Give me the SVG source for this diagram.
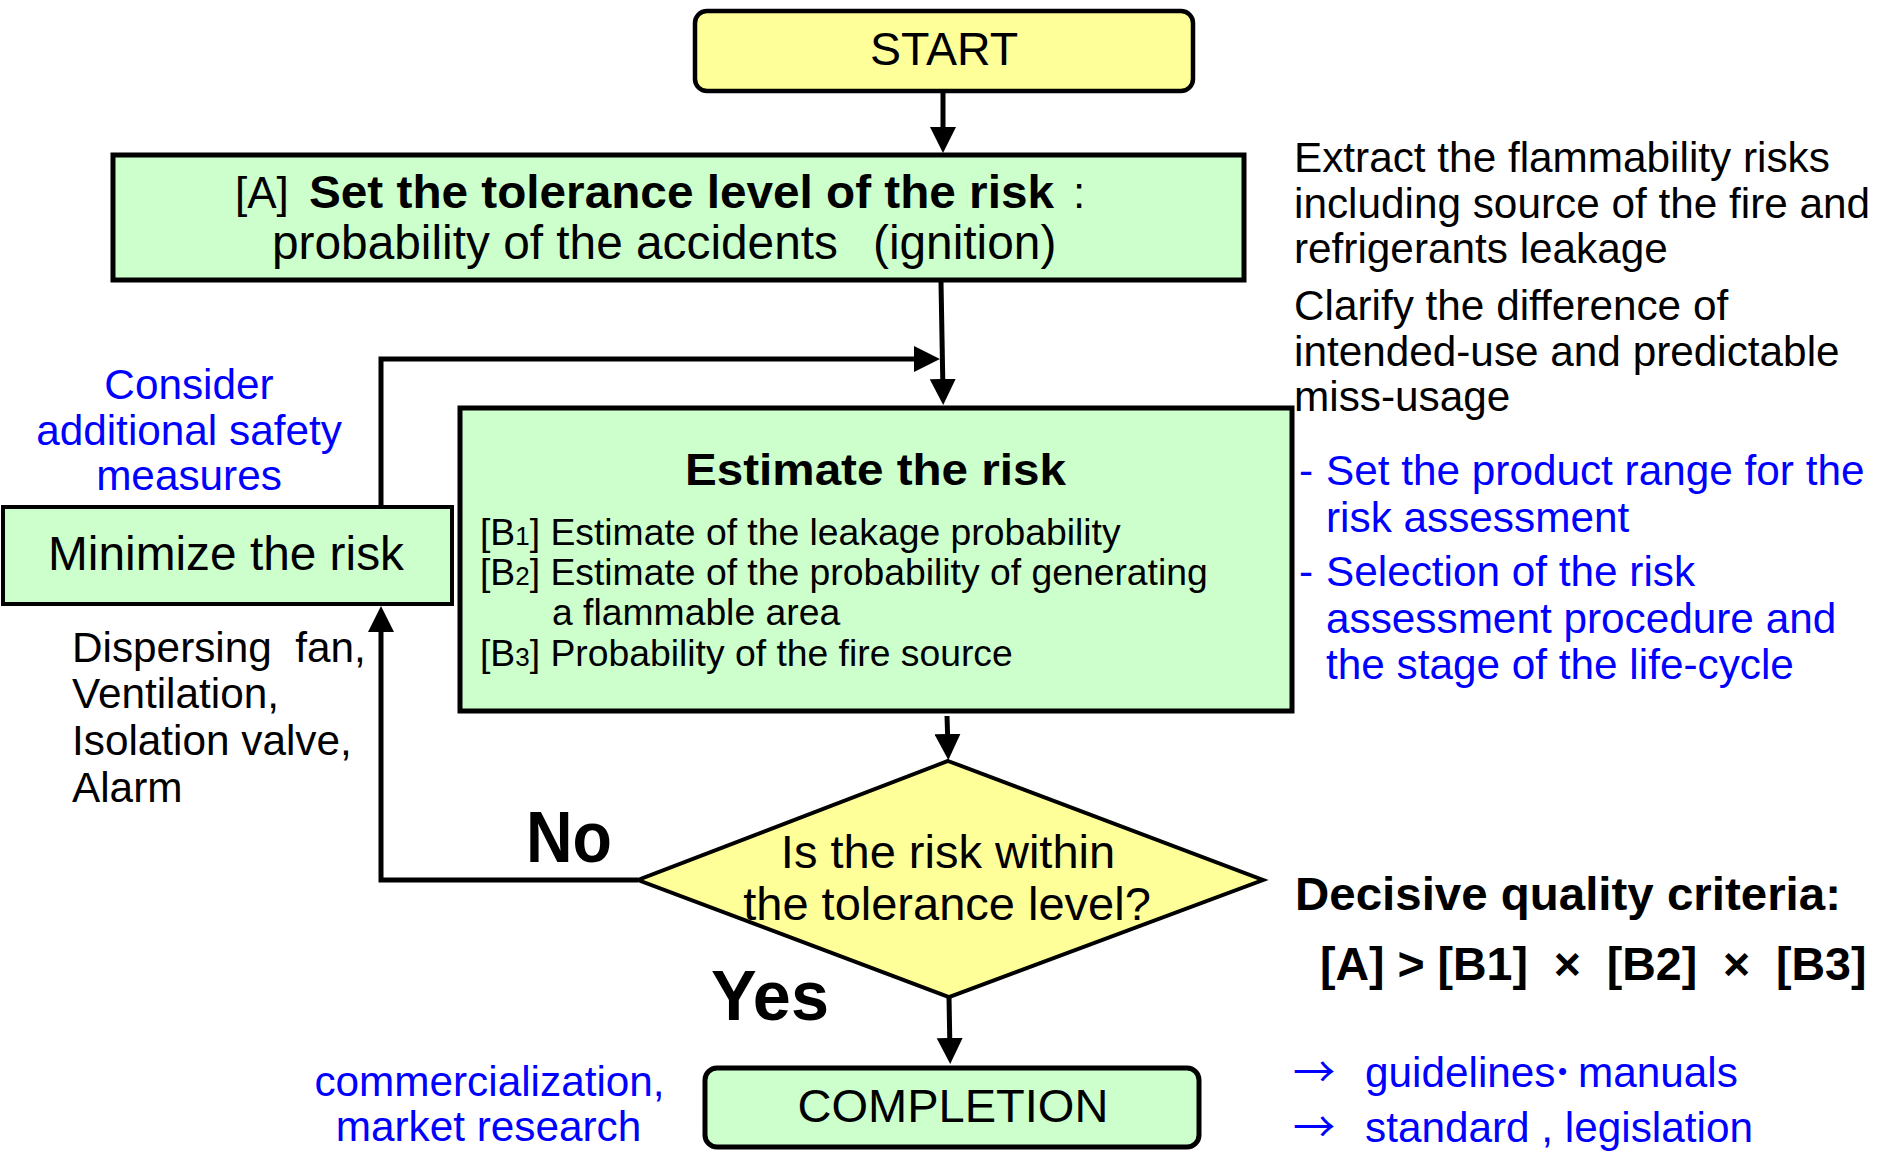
<svg xmlns="http://www.w3.org/2000/svg" width="1883" height="1152" viewBox="0 0 1883 1152">
  <style>
    text { font-family: "Liberation Sans", Arial, "Noto Sans CJK JP", sans-serif; fill: #000; }
    .yel { fill: #FFFF99; stroke: #000; }
    .grn { fill: #CCFFCC; stroke: #000; }
    .conn { fill: none; stroke: #000; stroke-width: 5; stroke-linejoin: miter; }
    .blue { fill: #0000FF; }
    .b { font-weight: bold; }
    .note { font-size: 42.3px; }
    .mid { text-anchor: middle; }
    .arr { font-family: "Noto Sans CJK JP", "DejaVu Sans", sans-serif; }
  </style>
  <defs>
    <marker id="arrow" viewBox="0 0 10 10" markerUnits="userSpaceOnUse" markerWidth="26" markerHeight="26" refX="5.4" refY="5" orient="auto">
      <path d="M0,0 L10,5 L0,10 z" fill="#000"/>
    </marker>
  </defs>

  <rect width="1883" height="1152" fill="#fff"/>

  <!-- connectors -->
  <g id="connectors">
    <path class="conn" d="M943,91 L943,141" marker-end="url(#arrow)"/>
    <path class="conn" d="M941,282 L943,393" marker-end="url(#arrow)"/>
    <path class="conn" d="M381,507 L381,359 L928,359" marker-end="url(#arrow)"/>
    <path class="conn" d="M947,716 L948,748" marker-end="url(#arrow)"/>
    <path class="conn" d="M949,997 L950,1052" marker-end="url(#arrow)"/>
    <path class="conn" d="M638,880 L381,880 L381,618" marker-end="url(#arrow)"/>
  </g>

  <!-- start -->
  <g id="start">
    <rect class="yel" x="695" y="11" width="498" height="80" rx="12" stroke-width="4.5"/>
    <text class="mid" x="944" y="65" font-size="46.5">START</text>
  </g>

  <!-- [A] tolerance level -->
  <g id="tolerance">
    <rect class="grn" x="113" y="155" width="1131" height="125" stroke-width="5"/>
    <text y="208" font-size="44"><tspan x="235">[A]</tspan><tspan x="309" class="b" font-size="46" textLength="745" lengthAdjust="spacingAndGlyphs">Set the tolerance level of the risk</tspan><tspan x="1073">:</tspan></text>
    <text y="259" font-size="47.8"><tspan x="272">probability of the accidents</tspan><tspan x="873">(ignition)</tspan></text>
  </g>

  <!-- estimate -->
  <g id="estimate">
    <rect class="grn" x="460" y="408" width="832" height="303" stroke-width="5"/>
    <text class="b mid" x="875.5" y="485" font-size="45" textLength="381" lengthAdjust="spacingAndGlyphs">Estimate the risk</text>
    <text x="480" y="545" font-size="37.3">[B<tspan font-size="26">1</tspan>] Estimate of the leakage probability</text>
    <text x="480" y="585" font-size="37.3">[B<tspan font-size="26">2</tspan>] Estimate of the probability of generating</text>
    <text x="552" y="625" font-size="37.3">a flammable area</text>
    <text x="480" y="666" font-size="37.3">[B<tspan font-size="26">3</tspan>] Probability of the fire source</text>
  </g>

  <!-- minimize -->
  <g id="minimize">
    <rect class="grn" x="3" y="507" width="449" height="97" stroke-width="4"/>
    <text class="mid" x="226" y="570" font-size="47.8">Minimize the risk</text>
  </g>

  <!-- decision -->
  <g id="decision">
    <polygon class="yel" points="948,761 1263,880 949,997 638,880" stroke-width="4"/>
    <text class="mid" x="948" y="868" font-size="47">Is the risk within</text>
    <text class="mid" x="947" y="920" font-size="47">the tolerance level?</text>
  </g>

  <!-- completion -->
  <g id="completion">
    <rect class="grn" x="705" y="1068" width="494" height="79" rx="12" stroke-width="5"/>
    <text class="mid" x="953" y="1122" font-size="47">COMPLETION</text>
  </g>

  <!-- branch labels -->
  <g id="labels">
    <text class="b" x="526" y="862" font-size="72" textLength="86" lengthAdjust="spacingAndGlyphs">No</text>
    <text class="b" x="711" y="1020" font-size="70" textLength="118" lengthAdjust="spacingAndGlyphs">Yes</text>
  </g>

  <!-- side notes -->
  <g id="notes-left">
    <text class="note blue mid" x="189" y="399">Consider</text>
    <text class="note blue mid" x="189" y="445">additional safety</text>
    <text class="note blue mid" x="189" y="490">measures</text>
    <text class="note" x="72" y="662" xml:space="preserve">Dispersing  fan,</text>
    <text class="note" x="72" y="708">Ventilation,</text>
    <text class="note" x="72" y="755">Isolation valve,</text>
    <text class="note" x="72" y="802">Alarm</text>
    <text class="note blue mid" x="489.5" y="1096">commercialization,</text>
    <text class="note blue mid" x="488.5" y="1141">market research</text>
  </g>

  <g id="notes-right">
    <text class="note" x="1294" y="172">Extract the flammability risks</text>
    <text class="note" x="1294" y="218">including source of the fire and</text>
    <text class="note" x="1294" y="263">refrigerants leakage</text>
    <text class="note" x="1294" y="320">Clarify the difference of</text>
    <text class="note" x="1294" y="366">intended-use and predictable</text>
    <text class="note" x="1294" y="411">miss-usage</text>

    <text class="note blue" x="1299" y="485">-</text>
    <text class="note blue" x="1326" y="485">Set the product range for the</text>
    <text class="note blue" x="1326" y="532">risk assessment</text>
    <text class="note blue" x="1299" y="586">-</text>
    <text class="note blue" x="1326" y="586">Selection of the risk</text>
    <text class="note blue" x="1326" y="633">assessment procedure and</text>
    <text class="note blue" x="1326" y="679">the stage of the life-cycle</text>

    <text class="b" x="1295" y="910" font-size="46" textLength="546" lengthAdjust="spacingAndGlyphs">Decisive quality criteria:</text>
    <text class="b" x="1320" y="980" font-size="46.5" xml:space="preserve">[A] &gt; [B1]  ×  [B2]  ×  [B3]</text>

    <text class="note blue arr" x="1293" y="1087">→</text>
    <text class="note blue" y="1087"><tspan x="1365">guidelines</tspan><tspan x="1552">･</tspan><tspan x="1578">manuals</tspan></text>
    <text class="note blue arr" x="1293" y="1142">→</text>
    <text class="note blue" x="1365" y="1142">standard , legislation</text>
  </g>
</svg>
